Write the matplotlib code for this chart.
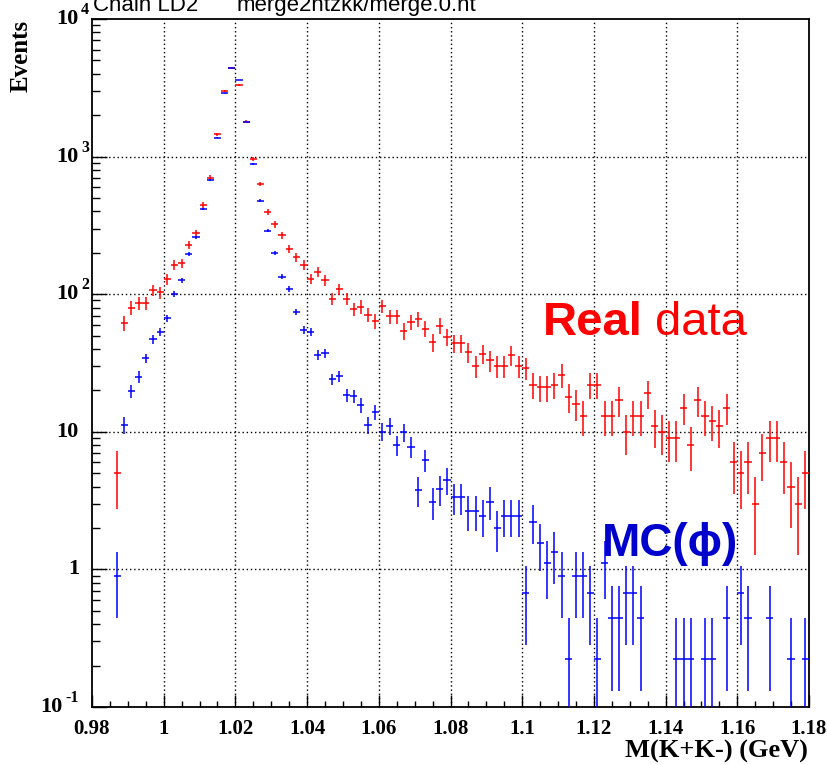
import numpy as np
import matplotlib
matplotlib.use('Agg')
import matplotlib.pyplot as plt
from matplotlib.ticker import FixedLocator, NullFormatter
import matplotlib.transforms as mtrans

# ---------------- data (100 bins of 2 MeV, 0.98 - 1.18 GeV) ----------------
x_min, x_max, n_bins = 0.98, 1.18, 100

data_counts = [0, 0, 0, 5, 62, 80, 86, 86, 107, 103,
               128, 163, 168, 228, 277, 445, 703, 1452, 3013, 4380,
               3316, 1790, 961, 632, 394, 322, 269, 213, 185, 163,
               129, 145, 126, 93, 109, 93, 78, 81, 71, 64,
               82, 69, 69, 54, 63, 66, 56, 45, 59, 49,
               44, 44, 38, 30, 37, 33, 30, 30, 36, 30,
               29, 22, 21, 21, 22, 26, 18, 16, 13, 22,
               22, 13, 13, 17, 10, 13, 13, 19, 11, 10,
               9, 9, 15, 8, 17, 13, 12, 11, 15, 6,
               5, 6, 3, 7, 9, 9, 6, 4, 3, 5]

mc_values = [0, 0, 0, 0.89, 11.2, 19.8, 25.1, 34.2, 47.0, 53.4,
             66.8, 100, 126.8, 197, 259, 416, 679, 1372, 2884, 4384,
             3603, 1794, 884, 478, 289, 198, 134, 109, 74.6, 55.0,
             52.9, 36.2, 37.4, 24.2, 25.5, 18.4, 18.2, 15.6, 11.2, 13.9,
             10.0, 11.0, 8.0, 9.9, 7.8, 3.78, 6.24, 3.1, 3.82, 4.47,
             3.34, 3.34, 2.67, 2.67, 2.45, 3.115, 2.0, 2.45, 2.45, 2.45,
             0.67, 2.22, 1.56, 1.11, 1.33, 0.89, 0.2225, 0.89, 0.89, 0.67,
             0.2225, 1.11, 0.445, 0.445, 0.67, 0.67, 0.445, 0, 0, 0,
             0, 0.2225, 0.2225, 0.2225, 0, 0.2225, 0.2225, 0, 0.445, 0,
             0.67, 0.445, 0, 0, 0.445, 0, 0, 0.2225, 0, 0.2225]
mc_weight = 0.2225

x_ticks = [0.98, 1.0, 1.02, 1.04, 1.06, 1.08, 1.1, 1.12, 1.14, 1.16, 1.18]
x_tick_labels = ['0.98', '1', '1.02', '1.04', '1.06', '1.08', '1.1', '1.12', '1.14', '1.16', '1.18']
y_decades = [1e-1, 1, 10, 1e2, 1e3, 1e4]
y_base_labels = ['10', '1', '10', '10', '10', '10']
y_exp_labels = ['-1', '', '', '2', '3', '4']

# ---------------- figure ----------------
W, H = 828, 765
fig = plt.figure(figsize=(W / 100, H / 100), dpi=100)
L, R, T, B = 92, 809, 19, 707
ax = fig.add_axes([L / W, 1 - B / H, (R - L) / W, (B - T) / H])
ax.set_yscale('log')
ax.set_xlim(x_min, x_max)
ax.set_ylim(0.1, 1e4)

edges = np.linspace(x_min, x_max, n_bins + 1)
centers = 0.5 * (edges[:-1] + edges[1:])
half = 0.5 * (edges[1] - edges[0])


def draw_hist(vals, errs, color):
    vals = np.asarray(vals, float)
    errs = np.asarray(errs, float)
    m = vals > 0
    c = centers[m]
    v = vals[m]
    e = errs[m]
    lo = np.maximum(v - e, 1e-4)
    hi = v + e
    ax.vlines(c, lo, hi, colors=color, linewidth=1.1, zorder=3)
    ax.hlines(v, c - half, c + half, colors=color, linewidth=1.1, zorder=3)


data_err = np.sqrt(np.asarray(data_counts, float))
mc_err = np.sqrt(np.asarray(mc_values, float) * mc_weight)
draw_hist(data_counts, data_err, '#ff0000')
draw_hist(mc_values, mc_err, '#0000ff')

# grid
for xt in x_ticks[1:-1]:
    ax.axvline(xt, color='black', linewidth=1.0, linestyle=(0, (1, 2)), zorder=1)
for yt in y_decades[1:-1]:
    ax.axhline(yt, color='black', linewidth=1.0, linestyle=(0, (1, 2)), zorder=1)

# ticks
ax.xaxis.set_major_locator(FixedLocator(x_ticks))
ax.xaxis.set_minor_locator(FixedLocator(np.arange(0.98, 1.1801, 0.005)))
ax.set_xticklabels(x_tick_labels)
ax.yaxis.set_major_locator(FixedLocator(y_decades))
minors = [m * 10.0 ** k for k in range(-1, 4) for m in range(2, 10)]
ax.yaxis.set_minor_locator(FixedLocator(minors))
ax.yaxis.set_major_formatter(NullFormatter())
ax.yaxis.set_minor_formatter(NullFormatter())
ax.tick_params(axis='x', which='major', direction='in', length=9, width=1.0, pad=9,
               top=False, labelsize=15)
ax.tick_params(axis='x', which='minor', direction='in', length=4.5, width=1.0, top=False)
ax.tick_params(axis='y', which='major', direction='in', length=11, width=1.0, right=False)
ax.tick_params(axis='y', which='minor', direction='in', length=5.5, width=1.0, right=False)
for lab in ax.get_xticklabels():
    lab.set_fontfamily('Liberation Serif')
    lab.set_fontweight('bold')
for s in ax.spines.values():
    s.set_linewidth(1.3)

# y labels, ROOT style
tr = mtrans.blended_transform_factory(fig.transFigure, ax.transData)
for val, base, ex in zip(y_decades, y_base_labels, y_exp_labels):
    xr = 63 if ex == '-1' else 79
    ax.text(xr / W, val, base, transform=tr, ha='right', va='center',
            fontfamily='Liberation Serif', fontweight='bold', fontsize=16, clip_on=False)
    if ex:
        sup_tr = tr + mtrans.ScaledTranslation(0, 9 / 100, fig.dpi_scale_trans)
        ax.text((xr + 2) / W, val, ex, transform=sup_tr, ha='left', va='center',
                fontfamily='Liberation Serif', fontweight='bold', fontsize=11.5, clip_on=False)

# axis titles
fig.text(21 / W, 1 - 20 / H, 'Events', rotation=90, ha='center', va='top',
         fontfamily='Liberation Serif', fontweight='bold', fontsize=18)
fig.text(808 / W, 1 - 751 / H, 'M(K+K-) (GeV)', ha='right', va='center',
         fontfamily='Liberation Serif', fontweight='bold', fontsize=19)

# clipped top title
fig.text(93 / W, 1 - 11 / H, 'Chain LD2', ha='left', va='baseline',
         fontfamily='Liberation Sans', fontsize=16)
fig.text(237 / W, 1 - 11 / H, 'merge2ntzkk/merge.0.nt', ha='left', va='baseline',
         fontfamily='Liberation Sans', fontsize=16)

# annotations
fig.text(543 / W, 1 - 335 / H, 'Real', ha='left', va='baseline', color='#ff0000',
         fontfamily='Liberation Sans', fontweight='bold', fontsize=34)
fig.text(655 / W, 1 - 335 / H, 'data', ha='left', va='baseline', color='#ff0000',
         fontfamily='Liberation Sans', fontsize=34)
fig.text(602 / W, 1 - 556 / H, 'MC(\u03d5)', ha='left', va='baseline', color='#0000cc',
         fontfamily=['Liberation Sans', 'DejaVu Sans'], fontweight='bold', fontsize=33)

fig.savefig('out.png', dpi=100)
